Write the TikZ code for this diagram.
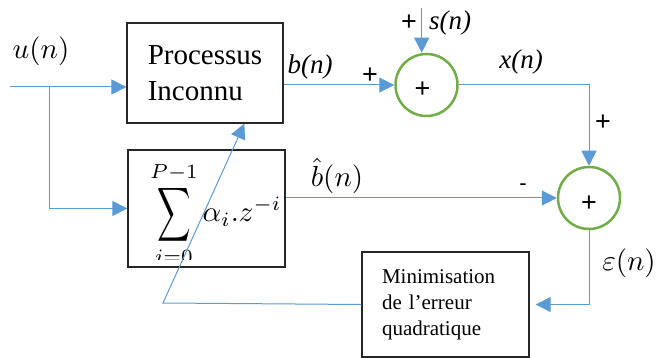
\documentclass[tikz,border=0pt]{standalone}
\usepackage{fontspec}
\setmainfont{Liberation Serif}
\newfontfamily\plusfont{Liberation Sans}
\newfontfamily\itserif{LiberationSerif-Italic}[Extension=.ttf]
\usepackage{graphicx}
\usetikzlibrary{arrows.meta,calc}
\definecolor{lblue}{HTML}{5B9BD5}
\definecolor{lgreen}{HTML}{70AD47}
\newcommand{\mybigmath}[1]{\scalebox{2.9}{$#1$}}
\begin{document}
\begin{tikzpicture}[x=1pt,y=-1pt,
 wire/.style={draw=lblue,line width=1pt},
 arr/.style={wire,-{Triangle[length=15pt,width=15pt]}},
 blk/.style={draw=black!85,line width=1.3pt,rectangle,inner sep=0pt},
 sumnode/.style={circle,draw=lgreen,line width=2.5pt,minimum size=62pt,inner sep=0pt},
 sgn/.style={font=\plusfont\fontsize{27}{27}\selectfont,inner sep=0pt},
 lab/.style={font=\itserif\fontsize{27}{30}\selectfont,inner sep=0pt},
 mlab/.style={font=\fontsize{10}{12}\selectfont,inner sep=0pt}]
\useasboundingbox (0,0) rectangle (656,358);

% blocks
\node[blk,minimum width=156pt,minimum height=100pt,align=left,font=\fontsize{29}{36}\selectfont] (proc) at (205,73) {Processus\\Inconnu};
\node[blk,minimum width=157pt,minimum height=117pt] (sumb) at (206.5,208.5) {};
\begin{scope}
\clip (128,150) rectangle (285,259);
\node[mlab,anchor=base west] (sumexpr) at (150,222) {\mybigmath{\displaystyle\mathop{\vcenter{\hbox{\scalebox{0.8}[1.3]{$\displaystyle\sum$}}}}\limits_{i=0}^{P-1}\alpha_i.z^{-i}}};
\end{scope}
\node[blk,minimum height=105pt,text width=127pt,inner xsep=20pt,align=left,font=\fontsize{21}{26}\selectfont] (minb) at (445.5,304.5) {Minimisation\\de l’erreur\\quadratique};

\node[sumnode] (circ1) at (426.5,85) {};
\node[sumnode] (circ2) at (589,198) {};
\node[sgn] (p1) at (422.5,90) {+};
\node[sgn] (p2) at (589,204) {+};

% connectors
\coordinate (uin) at (10,87);
\coordinate (br) at (49,87);
\coordinate (sin) at (421.7,8);
\coordinate (fb) at (163,303);
\coordinate (tip) at ($(proc.south west)!0.75!(proc.south east)$);
\draw[arr] (uin) -- (uin -| proc.west);
\draw[arr] (br) |- (sumb.west);
\draw[arr] (proc.east |- circ1.west) -- (circ1.west);
\draw[arr] (sin) -- (sin |- circ1.north);
\draw[arr] (circ1.east) -| (circ2.north);
\draw[arr] (sumb.east |- circ2.west) -- (circ2.west);
\draw[arr,shorten >=6pt] (circ2.south) |- (minb.east);
\draw[arr] (minb.west) -- (fb) -- (tip);

% labels
\node[mlab] (lu) at (41,51) {\mybigmath{u(n)}};
\node[lab] (lb) at (310,67) {b(n)};
\node[sgn] (pb) at (370,76) {+};
\node[sgn] (ps) at (409,23) {+};
\node[lab] (ls) at (450,23) {s(n)};
\node[lab] (lx) at (521,62) {x(n)};
\node[sgn] (px) at (603,123) {+};
\node[mlab] (lbh) at (337,176) {\mybigmath{\hat{b}(n)}};
\node[sgn,font=\plusfont\fontsize{22}{22}\selectfont] (mb) at (523,187) {-};
\node[mlab] (le) at (629,263) {\mybigmath{\varepsilon(n)}};
\end{tikzpicture}
\end{document}
